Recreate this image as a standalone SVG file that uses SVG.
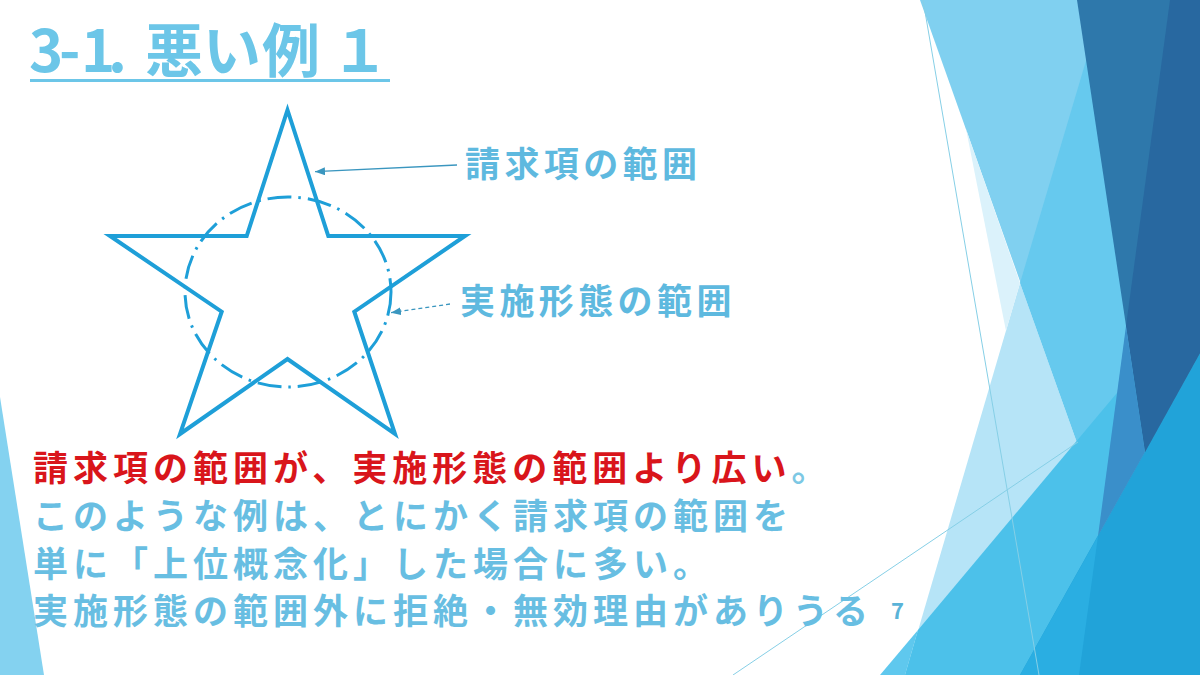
<svg xmlns="http://www.w3.org/2000/svg" width="1200" height="675" viewBox="0 0 1200 675">
  <style>
    .jp { font-family: "Noto Sans CJK JP", "Noto Sans", sans-serif; font-weight: 700; }
    .body { font-size: 35px; letter-spacing: 5px; fill: #68bee2; }
    .label { font-size: 35px; letter-spacing: 4.4px; fill: #5eb9df; }
    .thin { stroke: #86cfe6; stroke-width: 1; fill: none; }
    .conn { stroke: #3a96bf; stroke-width: 1.3; fill: none; }
  </style>
  <defs>
    <marker id="ah" viewBox="0 0 10 8" refX="10" refY="4" markerWidth="10" markerHeight="8" markerUnits="userSpaceOnUse" orient="auto">
      <path d="M0,0 L10,4 L0,8 z" fill="#3a96bf"/>
    </marker>
  </defs>
  <rect width="1200" height="675" fill="#ffffff"/>

  <g id="decoration">
    <polygon points="0,397 44,675 0,675" fill="#84d2f0"/>
    <polygon points="920,0 1200,0 1200,675 1160,675" fill="#80d0f0"/>
    <polygon points="1020,283 1160,675 905,675" fill="#b6e4f7"/>
    <polygon points="966,129 1020,283 1006,331" fill="#dbf2fb"/>
    <polygon points="1104,0 1200,0 1200,675 1160,675 1020,283" fill="#66c9ee"/>
    <polygon points="880,675 918,630 905,675" fill="#5fc8ee"/>
    <polygon points="918,630 1200,294 1200,675 905,675" fill="#4cc1ea"/>
    <polygon points="1200,353 1200,675 1020,675" fill="#21a3d9"/>
    <polygon points="1098,536 1079,675 1020,675" fill="#2aaee2"/>
    <polygon points="1077,0 1200,0 1200,353 1145,452" fill="#2e78ab"/>
    <polygon points="1170,0 1200,0 1200,353 1145,452 1126,326" fill="#2868a0"/>
    <polygon points="1126,326 1145,452 1098,536" fill="#3a8fca"/>
    <line class="thin" x1="733" y1="675" x2="1078" y2="442"/>
    <line class="thin" x1="923" y1="0" x2="1039" y2="675"/>
  </g>

  <g id="title">
    <text class="jp" font-size="58" fill="#6cc6e8" x="29 59 81 108 145 203 262 331" y="72">3-1.悪い例１</text>
    <rect x="30" y="79" width="360" height="3" fill="#6cc6e8"/>
  </g>

  <g id="star-claim">
    <polygon points="287.5,110 328.3,236 465,236 354.3,311.7 395,434 287.5,359 180,434 221.7,311.7 110,236 246.7,236" fill="none" stroke="#1e9fd8" stroke-width="4" stroke-linejoin="miter"/>
  </g>

  <g id="circle-embodiment">
    <ellipse cx="288" cy="292" rx="103" ry="95" fill="none" stroke="#1e9fd8" stroke-width="3" stroke-dasharray="24 7 2.5 7"/>
  </g>

  <g id="label-claim">
    <text class="jp label" x="465" y="177">請求項の範囲</text>
  </g>

  <g id="label-embodiment">
    <text class="jp label" x="460" y="314">実施形態の範囲</text>
  </g>

  <g id="connectors">
    <line class="conn" x1="457" y1="165" x2="315" y2="171.7" marker-end="url(#ah)"/>
    <line class="conn" x1="450" y1="304" x2="391" y2="312.7" stroke-dasharray="4 3" marker-end="url(#ah)"/>
  </g>

  <g id="explanation">
    <text class="jp" font-size="35" letter-spacing="5" x="33" y="481"><tspan fill="#d9151b">請求項の範囲が、実施形態の範囲より広い</tspan><tspan fill="#7cc8e4">。</tspan></text>
    <text class="jp body" x="33" y="529">このような例は、とにかく請求項の範囲を</text>
    <text class="jp body" x="33" y="577">単に「上位概念化」した場合に多い。</text>
    <text class="jp body" x="33" y="624">実施形態の範囲外に拒絶・無効理由がありうる</text>
  </g>

  <g id="page-number">
    <text class="jp" font-size="22" fill="#5ab3d8" x="891" y="619">7</text>
  </g>
</svg>
